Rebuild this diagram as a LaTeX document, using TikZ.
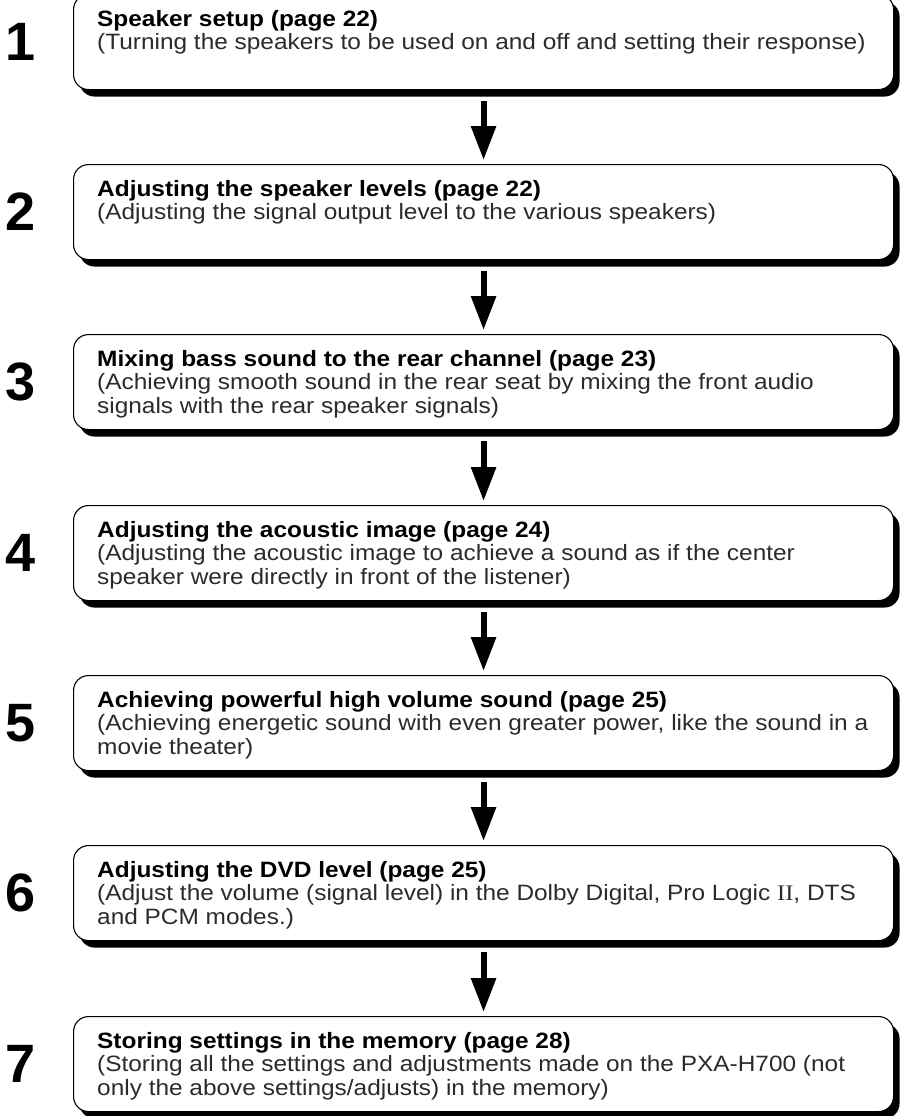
\documentclass[tikz,border=0pt]{standalone}
\usepackage{fontspec}
\setmainfont{Liberation Sans}
\newfontfamily\descfont[FakeStretch=1.1]{Liberation Sans}
\newfontfamily\romanfont[FakeStretch=1.1]{Liberation Serif}
\usetikzlibrary{positioning, shadows, arrows.meta}
\definecolor{txtgray}{HTML}{2B2B2B}

\begin{document}
\begin{tikzpicture}[x=1pt, y=-1pt,
    stepbox/.style={draw=black, line width=1.1pt, fill=white, rounded corners=15pt,
                    minimum width=820pt, minimum height=95pt, anchor=north west,
                    drop shadow={shadow xshift=6pt, shadow yshift=-7pt, opacity=1, fill=black}},
    stepnum/.style={font=\fontsize{54}{54}\selectfont\bfseries, inner sep=0pt},
    stepdesc/.style={anchor=north west, align=left, inner sep=0pt, text=txtgray,
                     font=\descfont\fontsize{22.2}{23.5}\selectfont},
    flow/.style={line width=6pt, -{Triangle[length=34pt, width=24pt]},
                 shorten <=11pt, shorten >=4pt}]
  \useasboundingbox (0,0) rectangle (900,1116);

  % boxes
  \node[stepbox] (b1) at (73,-6)   {};
  \node[stepbox] (b2) at (73,164)  {};
  \node[stepbox] (b3) at (73,334)  {};
  \node[stepbox] (b4) at (73,505)  {};
  \node[stepbox] (b5) at (73,675)  {};
  \node[stepbox] (b6) at (73,845)  {};
  \node[stepbox] (b7) at (73,1016) {};

  % step numbers
  \node[stepnum, left=37pt of b1] (n1) {1};
  \node[stepnum, left=37pt of b2] (n2) {2};
  \node[stepnum, left=37pt of b3] (n3) {3};
  \node[stepnum, left=37pt of b4] (n4) {4};
  \node[stepnum, left=37pt of b5] (n5) {5};
  \node[stepnum, left=37pt of b6] (n6) {6};
  \node[stepnum, left=37pt of b7] (n7) {7};

  % texts
  \node[stepdesc] (t1) at ([xshift=24pt, yshift=-16pt]b1.north west)
    {{\color{black}\bfseries Speaker setup (page 22)}\\
     (Turning the speakers to be used on and off and setting their response)};
  \node[stepdesc] (t2) at ([xshift=24pt, yshift=-16pt]b2.north west)
    {{\color{black}\bfseries Adjusting the speaker levels (page 22)}\\
     (Adjusting the signal output level to the various speakers)};
  \node[stepdesc] (t3) at ([xshift=24pt, yshift=-16pt]b3.north west)
    {{\color{black}\bfseries Mixing bass sound to the rear channel (page 23)}\\
     (Achieving smooth sound in the rear seat by mixing the front audio\\
     signals with the rear speaker signals)};
  \node[stepdesc] (t4) at ([xshift=24pt, yshift=-16pt]b4.north west)
    {{\color{black}\bfseries Adjusting the acoustic image (page 24)}\\
     (Adjusting the acoustic image to achieve a sound as if the center\\
     speaker were directly in front of the listener)};
  \node[stepdesc] (t5) at ([xshift=24pt, yshift=-16pt]b5.north west)
    {{\color{black}\bfseries Achieving powerful high volume sound (page 25)}\\
     (Achieving energetic sound with even greater power, like the sound in a\\
     movie theater)};
  \node[stepdesc] (t6) at ([xshift=24pt, yshift=-16pt]b6.north west)
    {{\color{black}\bfseries Adjusting the DVD level (page 25)}\\
     (Adjust the volume (signal level) in the Dolby Digital, Pro Logic {\romanfont II}, DTS\\
     and PCM modes.)};
  \node[stepdesc] (t7) at ([xshift=24pt, yshift=-16pt]b7.north west)
    {{\color{black}\bfseries Storing settings in the memory (page 28)}\\
     (Storing all the settings and adjustments made on the PXA-H700 (not\\
     only the above settings/adjusts) in the memory)};

  % arrows
  \draw[flow] (b1) -- (b2);
  \draw[flow] (b2) -- (b3);
  \draw[flow] (b3) -- (b4);
  \draw[flow] (b4) -- (b5);
  \draw[flow] (b5) -- (b6);
  \draw[flow] (b6) -- (b7);
\end{tikzpicture}
\end{document}
